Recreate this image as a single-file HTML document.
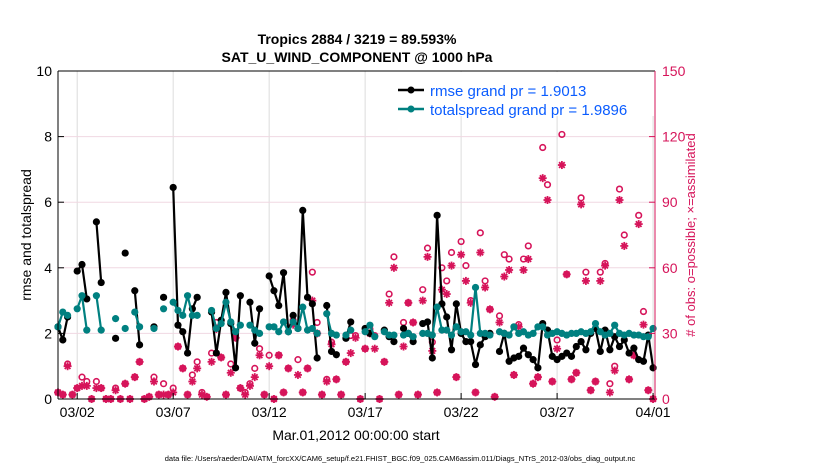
<!DOCTYPE html>
<html><head><meta charset="utf-8"><style>
body{margin:0;background:#fff;}
svg{display:block;font-family:"Liberation Sans",sans-serif;}
</style></head><body>
<svg id="chart" width="830" height="470" viewBox="0 0 830 470" xmlns="http://www.w3.org/2000/svg">
<text x="357" y="44" text-anchor="middle" font-size="14" font-weight="bold">Tropics 2884 / 3219 = 89.593%</text>
<text x="357" y="62" text-anchor="middle" font-size="14" font-weight="bold">SAT_U_WIND_COMPONENT @ 1000 hPa</text>
<g id="grid"></g>
<g id="series"></g>
<g id="axes"></g>
<text transform="translate(31,235) rotate(-90)" text-anchor="middle" font-size="14">rmse and totalspread</text>
<text transform="translate(695,235) rotate(-90)" text-anchor="middle" font-size="13" fill="#d6145a"># of obs: o=possible; ×=assimilated</text>
<text x="356" y="440" text-anchor="middle" font-size="14">Mar.01,2012 00:00:00 start</text>
<text x="400" y="461" text-anchor="middle" font-size="7.5">data file: /Users/raeder/DAI/ATM_forcXX/CAM6_setup/f.e21.FHIST_BGC.f09_025.CAM6assim.011/Diags_NTrS_2012-03/obs_diag_output.nc</text>
<g>
<rect x="386" y="72" width="268" height="44" fill="#fff"/>
<line x1="398" y1="90" x2="424" y2="90" stroke="#000" stroke-width="2.5"/><circle cx="411" cy="90" r="3.5" fill="#000"/>
<text x="430" y="96" font-size="15" fill="#0a5cff">rmse grand pr = 1.9013</text>
<line x1="398" y1="109" x2="424" y2="109" stroke="#008080" stroke-width="2.5"/><circle cx="411" cy="109" r="3.5" fill="#008080"/>
<text x="430" y="115" font-size="15" fill="#0a5cff">totalspread grand pr = 1.9896</text>
</g>
</svg>
<script>
const N=null;
const rmse=[2.2,1.8,2.5,N,3.9,4.1,3.05,N,5.4,3.55,N,N,1.85,N,4.45,N,3.3,1.65,N,N,2.2,N,3.1,N,6.45,2.25,2.05,1.4,2.75,3.1,N,N,2.65,1.4,2.4,3.25,2.3,0.95,
3.15,N,2.95,1.7,2.75,N,3.75,3.3,2.85,3.85,2.05,2.55,2.15,5.75,3.1,2.9,1.25,N,2.85,1.45,1.35,N,1.85,2.35,N,N,2.15,2.0,N,N,2.1,1.9,1.75,N,2.15,2.0,1.75,N,2.3,2.35,1.25,5.6,
2.9,2.5,1.5,2.9,2.0,1.75,1.75,1.05,1.65,1.9,2.0,N,1.45,2.0,1.15,1.25,1.3,1.55,1.35,1.2,0.95,2.3,2.1,1.3,1.2,1.3,1.4,1.3,1.6,1.75,1.5,2.0,2.15,1.45,2.1,1.5,1.9,1.6,1.8,1.4,1.55,1.2,1.15,1.95,0.95];
const spread=[2.2,2.65,2.55,N,2.75,3.15,2.1,N,3.15,2.1,N,N,2.45,N,2.15,N,2.65,2.2,N,N,2.15,N,2.75,N,2.95,2.7,2.55,3.15,2.55,2.55,N,N,2.7,2.15,2.3,2.95,2.35,2.05,
2.25,N,2.25,2.1,2.0,N,2.2,2.2,2.05,2.35,2.05,2.35,2.15,2.8,2.1,2.15,2.0,N,2.6,2.0,1.95,N,1.95,2.1,N,N,2.05,2.25,1.9,N,2.05,1.95,1.95,N,1.95,2.0,1.9,N,2.0,2.0,1.95,2.8,
2.1,2.1,1.95,2.2,2.05,2.05,1.95,3.4,2.0,2.0,1.95,N,2.05,2.0,1.95,2.2,2.0,2.05,1.95,2.0,2.2,2.2,1.95,2.0,2.05,2.0,1.95,2.0,2.0,2.05,2.0,2.05,2.3,2.05,1.95,2.0,2.25,2.0,1.95,2.0,1.95,1.95,1.9,1.9,2.15];
const possible=[3,2,16,2,5,10,8,0,8,5,0,0,5,0,7,0,10,17,0,1,10,2,7,2,5,24,14,2,11,17,3,1,21,35,19,2,16,28,5,3,7,14,23,2,20,0,20,3,14,36,18,3,14,58,35,2,9,26,9,2,17,29,29,0,23,32,29,0,17,48,65,2,35,44,35,2,50,69,26,3,
60,54,67,10,72,61,45,3,76,54,41,1,38,66,64,11,34,64,70,7,10,115,98,8,27,121,57,9,12,92,58,4,8,58,62,7,15,96,75,9,20,84,40,4,0];
const assimilated=[3,2,15,2,5,6,6,0,5,5,0,0,4,0,7,0,10,17,0,1,8,2,2,2,3,24,14,2,8,14,2,1,17,32,19,2,12,28,5,2,6,10,20,2,15,0,20,3,14,34,11,3,14,45,30,2,8,25,9,2,17,21,28,0,23,30,23,0,17,44,60,2,24,44,35,2,45,65,22,3,
50,48,61,10,66,54,44,3,67,51,41,1,35,56,59,11,33,59,64,7,10,101,91,8,23,107,57,9,12,89,54,4,8,54,61,3,13,91,70,9,20,80,34,4,0];
const xTickDays=[1,6,11,16,21,26,31];
const xTickLabels=["03/02","03/07","03/12","03/17","03/22","03/27","04/01"];
const yTicks=[0,2,4,6,8,10];
const y2Ticks=[0,30,60,90,120,150];

const X0=58,X1=655,Y0=399,Y1=71,DMAX=31.1;
const xs=d=>X0+d/DMAX*(X1-X0);
const ys=v=>Y0-v/10*(Y0-Y1);
const y2s=v=>Y0-v/150*(Y0-Y1);
const NS="http://www.w3.org/2000/svg";
function mk(tag,attrs,parent){const e=document.createElementNS(NS,tag);for(const k in attrs)e.setAttribute(k,attrs[k]);parent.appendChild(e);return e;}
const grid=document.getElementById('grid'),ser=document.getElementById('series'),ax=document.getElementById('axes');
mk('rect',{x:X0,y:Y1,width:X1-X0,height:Y0-Y1,fill:'#fff'},grid);
xTickDays.forEach((d,i)=>{
 const l=mk('line',{x1:xs(d),x2:xs(d),y1:Y1,y2:Y0,stroke:'#dcdcdc','stroke-width':1},grid);
 
 
 mk('line',{x1:xs(d),x2:xs(d),y1:Y0,y2:Y0-6,stroke:'#000'},ax);
 const tx=mk('text',{x:xs(d),y:417,'text-anchor':'middle','font-size':14},ax);tx.textContent=xTickLabels[i];
 
 
});
yTicks.forEach(v=>{
 if(v>0&&v<10){const l=mk('line',{x1:X0,x2:X1,y1:ys(v),y2:ys(v),stroke:'#f0d8e2','stroke-width':1},grid);
 
 }
 mk('line',{x1:X0,x2:X0+6,y1:ys(v),y2:ys(v),stroke:'#000'},ax);
 const tx=mk('text',{x:X0-6,y:ys(v)+5,'text-anchor':'end','font-size':14},ax);tx.textContent=v;
 
 
});
y2Ticks.forEach(v=>{
 mk('line',{x1:X1,x2:X1-6,y1:y2s(v),y2:y2s(v),stroke:'#d6145a'},ax);
 const tx=mk('text',{x:X1+7,y:y2s(v)+5,'font-size':14,fill:'#d6145a'},ax);tx.textContent=v;
 
 
});
mk('line',{x1:X0,x2:X0,y1:Y1,y2:Y0,stroke:'#000'},ax);
mk('line',{x1:X0,x2:X1,y1:Y0,y2:Y0,stroke:'#000'},ax);
mk('line',{x1:X0,x2:X1,y1:Y1,y2:Y1,stroke:'#000'},ax);
mk('line',{x1:X1,x2:X1,y1:Y1,y2:Y0,stroke:'#d6145a'},ax);

function clipX(d){return Math.min(xs(d),X1);}
possible.forEach((v,k)=>{if(v==null)return;
 const c=mk('circle',{cx:clipX(k*0.25),cy:y2s(v),r:2.8,fill:'none',stroke:'#d6145a','stroke-width':1.6},ser);
 
 
});
assimilated.forEach((v,k)=>{if(v==null)return;
 const cx=clipX(k*0.25),cy=y2s(v),r=4;
 const g=mk('g',{stroke:'#d6145a','stroke-width':1.8},ser);
 
 
 for(let a=0;a<180;a+=45){const rad=a*Math.PI/180;mk('line',{x1:cx-r*Math.cos(rad),y1:cy-r*Math.sin(rad),x2:cx+r*Math.cos(rad),y2:cy+r*Math.sin(rad)},g);}
});
function drawSeries(arr,color,name){
 let d='',pen=false;
 arr.forEach((v,k)=>{if(v==null){pen=false;return;}d+=(pen?'L':'M')+xs(k*0.25).toFixed(1)+' '+ys(v).toFixed(1);pen=true;});
 const p=mk('path',{d:d,fill:'none',stroke:color,'stroke-width':2.2},ser);
 
 
 arr.forEach((v,k)=>{if(v==null)return;
  const c=mk('circle',{cx:xs(k*0.25),cy:ys(v),r:3.6,fill:color},ser);
  
  
 });
}
drawSeries(rmse,'#000','rmse');
drawSeries(spread,'#008080','totalspread');
</script>
</body></html>
